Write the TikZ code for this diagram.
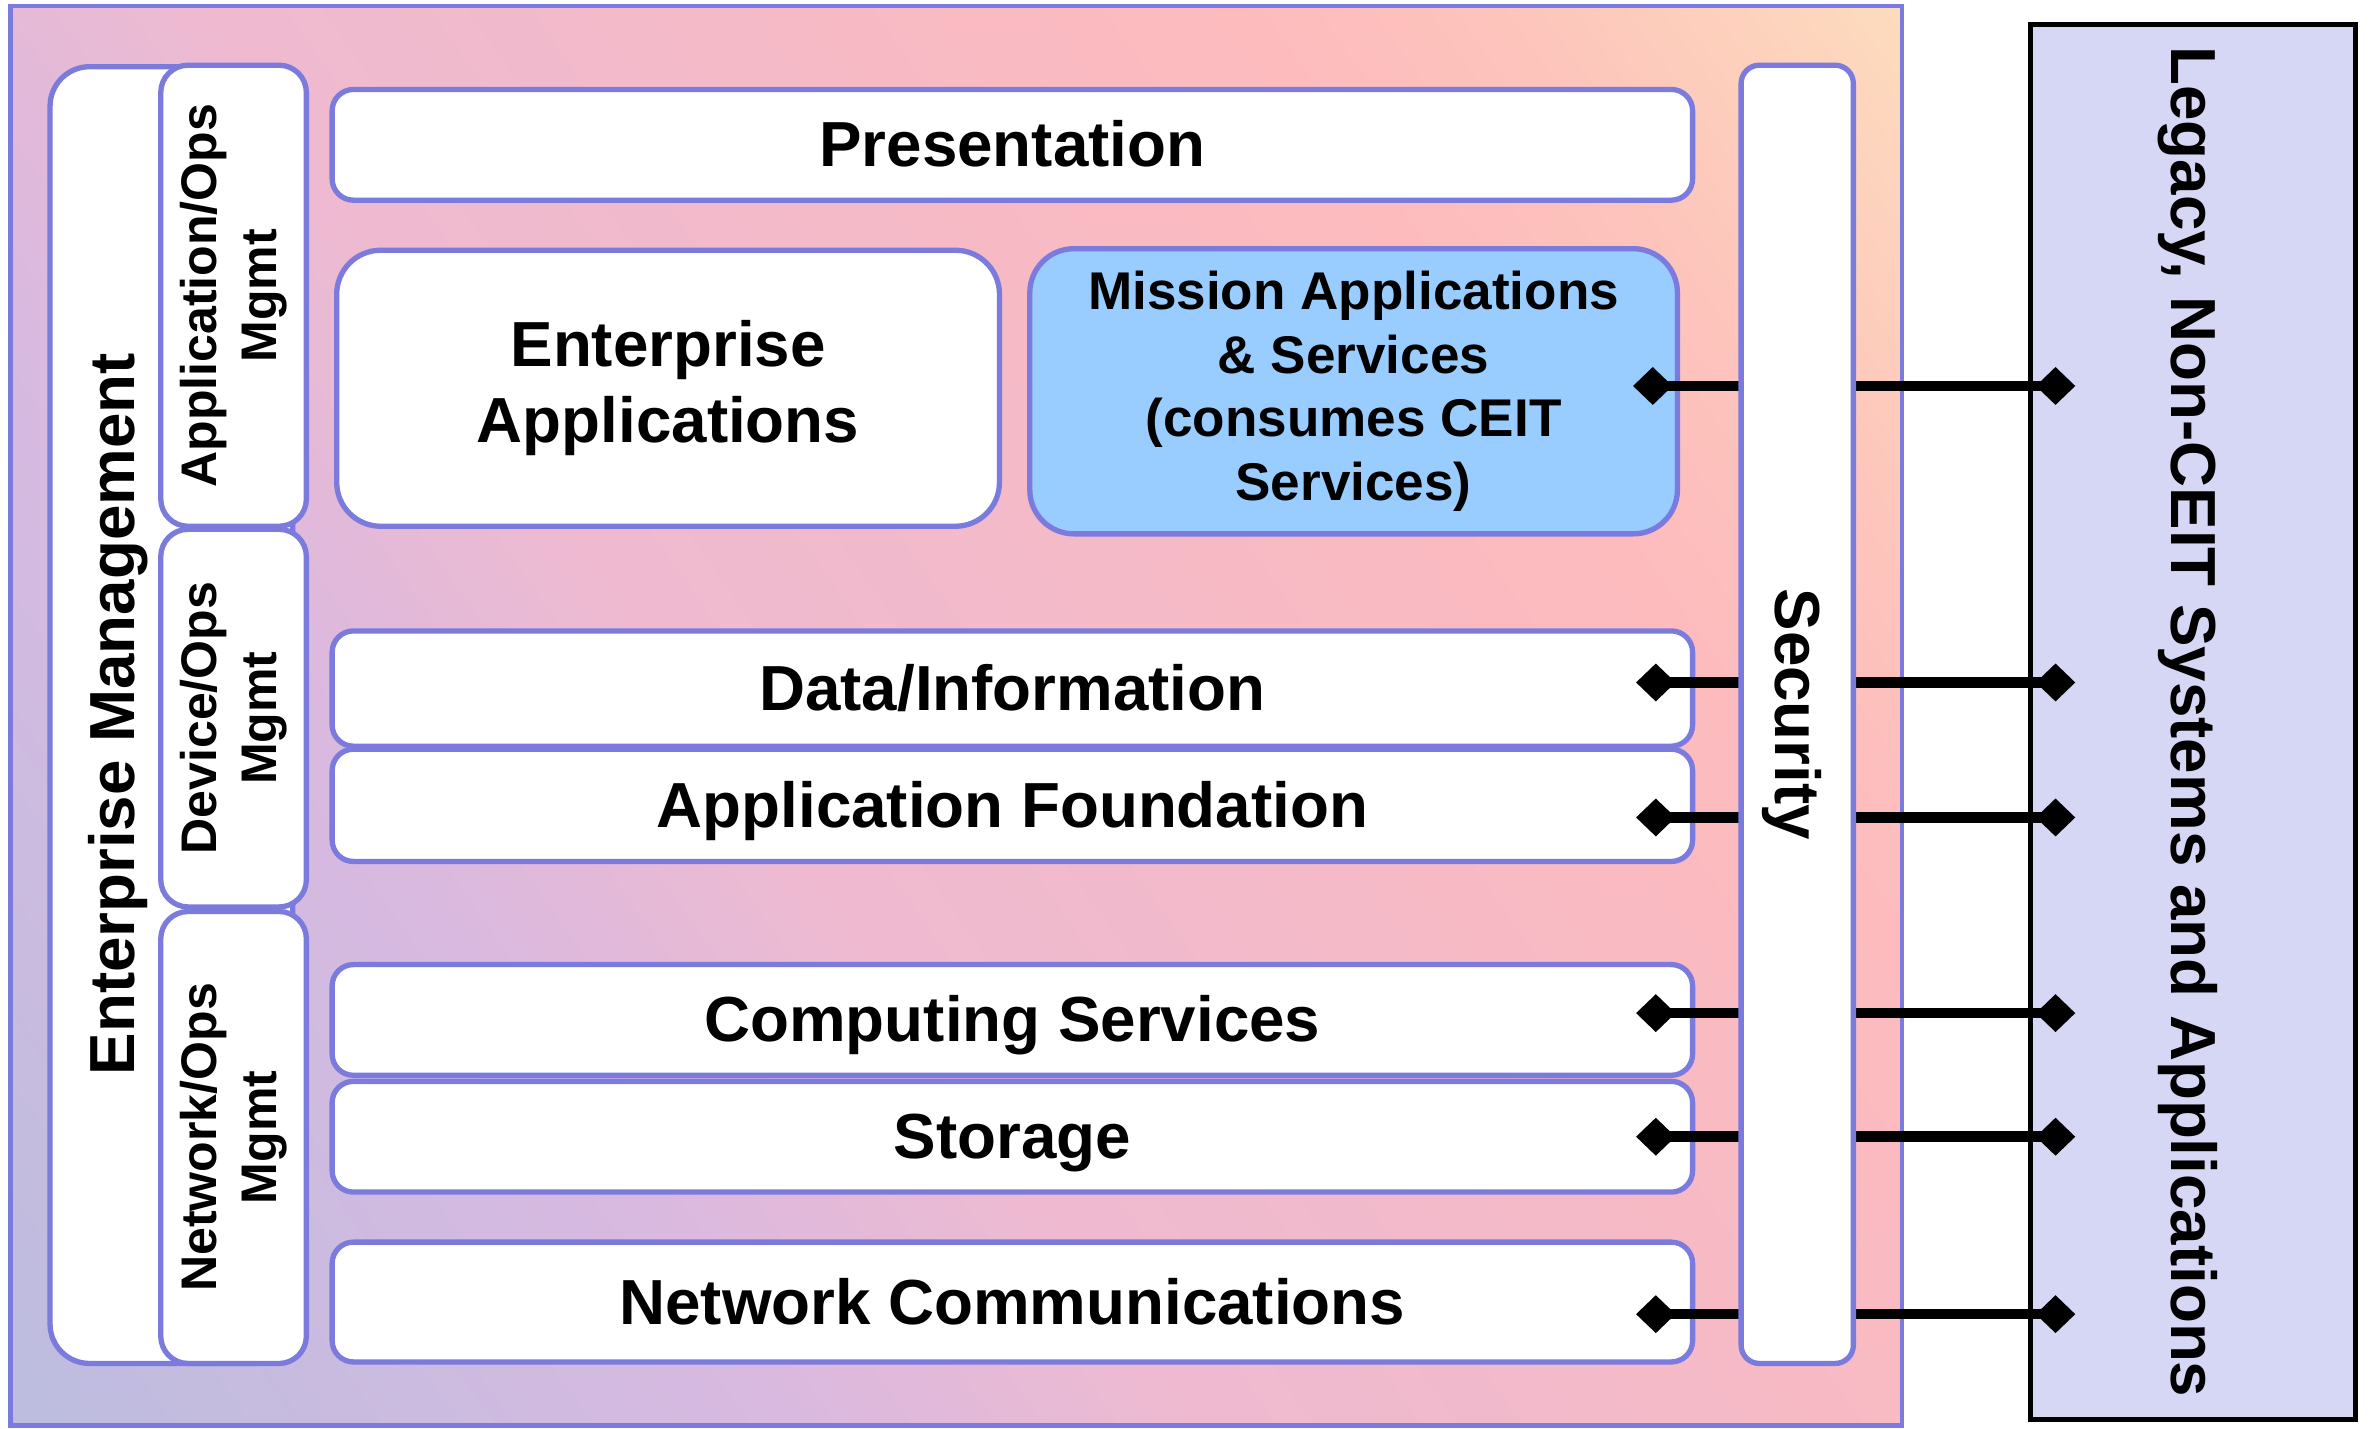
\documentclass[tikz,border=0pt]{standalone}
\usepackage{fontspec}
\setmainfont{Liberation Sans}
\usetikzlibrary{arrows.meta,calc}
\definecolor{edge}{RGB}{123,123,222}
\definecolor{sky}{RGB}{153,204,255}
\definecolor{lilac}{RGB}{214,214,245}
\definecolor{bgA}{RGB}{187,189,223}
\definecolor{bgB}{RGB}{217,185,224}
\definecolor{bgC}{RGB}{239,186,208}
\definecolor{bgD}{RGB}{241,186,204}
\definecolor{bgE}{RGB}{249,186,194}
\definecolor{bgF}{RGB}{253,187,189}
\definecolor{bgG}{RGB}{253,196,188}
\definecolor{bgH}{RGB}{253,220,189}
\pgfdeclarehorizontalshading{bgshade}{100bp}{color(0bp)=(bgA); color(15bp)=(bgA);
  color(34bp)=(bgB); color(44bp)=(bgC); color(51bp)=(bgD); color(62bp)=(bgE);
  color(69bp)=(bgF); color(75bp)=(bgG); color(85bp)=(bgH); color(100bp)=(bgH)}
\tikzset{
  layer/.style={draw=edge,line width=3.5,fill=white,rounded corners=14,inner sep=0,
    font=\fontsize{42}{50}\bfseries\selectfont},
  bar/.style={layer,text height=38pt,text depth=9pt},
  side/.style={layer,rounded corners=18,rotate=90,align=center,
    font=\fontsize{33}{40}\bfseries\selectfont},
  link/.style={line width=7,{Diamond[length=26pt,width=25pt]}-{Diamond[length=26pt,width=25pt]}}
}
\begin{document}
\begin{tikzpicture}[x=1pt,y=1pt]
    \useasboundingbox (0,0) rectangle (1562,942);
    \shadedraw[shading=bgshade,shading angle=35,draw=edge,line width=3] (7,2) rectangle (1254,938);

    \node[layer,rounded corners=26,minimum width=160,minimum height=855] (entmgmt) at (113,470.5) {};
    \node[rotate=90,anchor=base,font=\fontsize{42}{50}\bfseries\selectfont] (emlabel) at (88.5,471) {Enterprise Management};
    \foreach \n/\y/\l/\t in {appops/747/304/{Application/Ops},devops/468.5/249/{Device/Ops},netops/192/298/{Network/Ops}}
        \node[side,minimum width=\l,minimum height=96] (\n) at (154,\y) {\t\\Mgmt};

    \foreach \n/\y/\h/\t in {pres/846.5/73/Presentation,data/488/76/{Data/Information},
        found/411/74/Application Foundation,comp/269.5/73/Computing Services,
        stor/192.5/73/Storage,netc/83.5/79/Network Communications}
        \node[bar,minimum width=897,minimum height=\h] (\n) at (667.5,\y) {\t};
    \node[layer,rounded corners=29,align=center,minimum width=437,minimum height=182] (entapps) at (440.5,686) {Enterprise\\Applications};
    \node[layer,rounded corners=29,align=center,fill=sky,minimum width=427,minimum height=188,
        font=\fontsize{35}{42}\bfseries\selectfont] (mission) at (892.5,684) {Mission Applications\\\& Services\\(consumes CEIT\\Services)};

    \node[bar,draw=black,line width=3.4,rounded corners=0,fill=lilac,rotate=-90,minimum width=920,minimum height=214] (legacy) at (1446,466) {Legacy, Non-CEIT Systems and Applications};

    \foreach \n/\dy/\l in {mission/3.5/31,data/4/39,found/-8/39,comp/4.5/39,stor/0/39,netc/-8/39}
        \draw[link] ($(\n.east)+(-\l,\dy)$) -- ($(\n.east -| legacy.south)+(31,\dy)$);

    \node[bar,rounded corners=12,rotate=-90,minimum width=856,minimum height=74] (security) at (1185,471) {Security};
\end{tikzpicture}
\end{document}
